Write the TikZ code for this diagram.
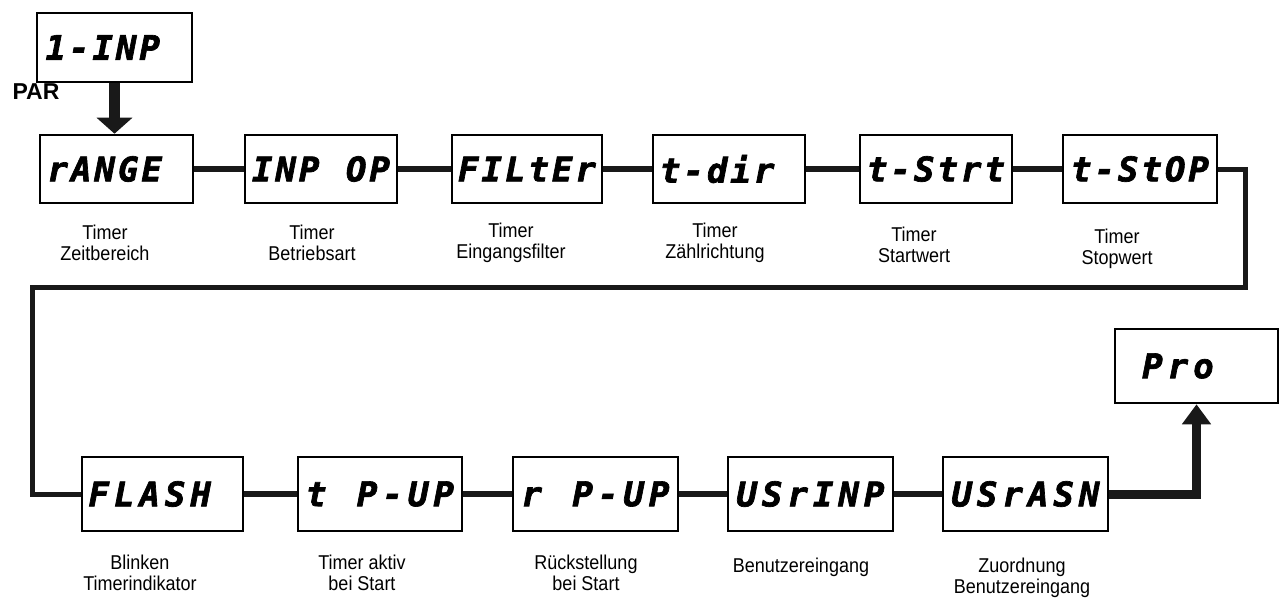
\documentclass[tikz,border=0pt]{standalone}
\usepackage{fontspec}
\usetikzlibrary{arrows.meta}
\newfontfamily\segfont[FakeBold=2]{DejaVu Sans Mono Bold Oblique}
\newfontfamily\lblfont[FakeStretch=0.9]{Liberation Sans}
\newfontfamily\parfont{Liberation Sans Bold}
\newlength\cw
\setlength\cw{23.5pt}
\def\segs#1{\segsi#1\relax}
\def\segsi#1{\ifx#1\relax\else\makebox[\cw][c]{#1}\expandafter\segsi\fi}
\tikzset{
  disp/.style={draw, line width=2.6pt, minimum height=68pt, inner sep=0pt,
    font=\segfont\fontsize{34}{34}\selectfont},
  lbl/.style={align=center, inner sep=0pt, font=\lblfont\fontsize{20}{21}\selectfont},
  conn/.style={line width=6pt, draw=black!90},
  loopconn/.style={line width=5pt, draw=black!90},
  bigconn/.style={line width=9pt, draw=black!90},
}
\begin{document}
\begin{tikzpicture}[x=1pt,y=-1pt]
\useasboundingbox (0,0) rectangle (1281,598);
% top box
\node[disp, minimum width=155pt, minimum height=69pt] (inp1) at (114.5,47.5) {\segs{1-INP~}};
\node[inner sep=0pt, font=\parfont\fontsize{23}{23}\selectfont] (par) at (36,92) {PAR};
% row 1
\node[disp, minimum width=153pt] (range) at (116.5,169) {\segs{rANGE~}};
\node[disp, minimum width=152pt] (inpop) at (321,169) {\segs{INP~OP}};
\node[disp, minimum width=150pt] (filter) at (527,169) {\segs{FILtEr}};
\node[disp, minimum width=152pt] (tdir) at (729,169) {\segs{t-dir~}};
\node[disp, minimum width=152pt] (tstrt) at (936,169) {\segs{t-Strt}};
\node[disp, minimum width=154pt] (tstop) at (1140,169) {\segs{t-StOP}};
% row 1 labels
\node[lbl] (lrange) at (105,243) {Timer\\Zeitbereich};
\node[lbl] (linpop) at (312,243) {Timer\\Betriebsart};
\node[lbl] (lfilter) at (511,243) {Timer\\Eingangsfilter};
\node[lbl] (ltdir) at (715,243) {Timer\\Zählrichtung};
\node[lbl] (ltstrt) at (914,245) {Timer\\Startwert};
\node[lbl] (ltstop) at (1117,249) {Timer\\Stopwert};
% row 2
\setlength\cw{25.5pt}
\node[disp, minimum width=161pt, minimum height=74pt] (flash) at (162.5,494) {\segs{FLASH~}};
\node[disp, minimum width=164pt, minimum height=74pt] (tpup) at (380,494) {\segs{t~P-UP}};
\node[disp, minimum width=165pt, minimum height=74pt] (rpup) at (595.5,494) {\segs{r~P-UP}};
\node[disp, minimum width=165pt, minimum height=74pt] (usrinp) at (810.5,494) {\segs{USrINP}};
\node[disp, minimum width=165pt, minimum height=74pt] (usrasn) at (1025.5,494) {\segs{USrASN}};
\node[disp, minimum width=163pt, minimum height=74pt] (pro) at (1196.5,366) {\hspace*{14pt}\segs{Pro~~}};
% row 2 labels
\node[lbl] (lflash) at (140,573) {Blinken\\Timerindikator};
\node[lbl] (ltpup) at (362,573) {Timer aktiv\\bei Start};
\node[lbl] (lrpup) at (586,573) {Rückstellung\\bei Start};
\node[lbl] (lusrinp) at (801,567) {Benutzereingang};
\node[lbl] (lusrasn) at (1022,578) {Zuordnung\\Benutzereingang};
% connectors
\draw[line width=11pt, draw=black!90, -{Triangle[width=35pt,length=16pt]}] (inp1.south) -- (inp1.south |- range.north);
\draw[conn] (range) -- (inpop);
\draw[conn] (inpop) -- (filter);
\draw[conn] (filter) -- (tdir);
\draw[conn] (tdir) -- (tstrt);
\draw[conn] (tstrt) -- (tstop);
\coordinate (c1) at (1245,287);
\coordinate (c2) at (32,287);
\draw[loopconn, line join=miter] (tstop.east) -| (c1) -- (c2) |- (flash.west);
\draw[conn] (flash) -- (tpup);
\draw[conn] (tpup) -- (rpup);
\draw[conn] (rpup) -- (usrinp);
\draw[conn] (usrinp) -- (usrasn);
\draw[bigconn, line join=miter, -{Triangle[width=28pt,length=20pt]}] (usrasn.east) -| (pro.south);
\end{tikzpicture}
\end{document}
